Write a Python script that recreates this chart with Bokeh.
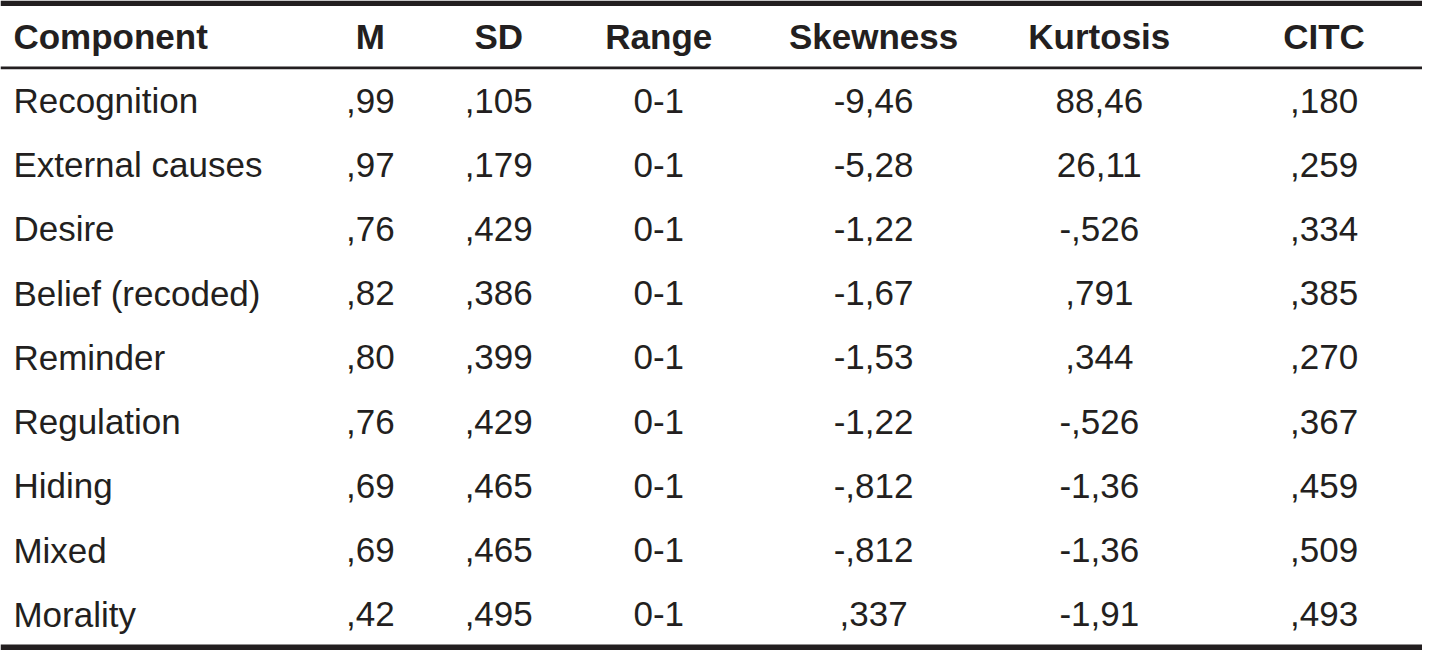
from bokeh.plotting import figure
from bokeh.models import Range1d, ColumnDataSource
from bokeh.core.properties import value
from bokeh.embed import file_html
from bokeh.resources import INLINE

# ---- data ----
headers = ["Component", "M", "SD", "Range", "Skewness", "Kurtosis", "CITC"]
components = ["Recognition", "External causes", "Desire", "Belief (recoded)",
              "Reminder", "Regulation", "Hiding", "Mixed", "Morality"]
mean_vals = [",99", ",97", ",76", ",82", ",80", ",76", ",69", ",69", ",42"]
sd_vals = [",105", ",179", ",429", ",386", ",399", ",429", ",465", ",465", ",495"]
range_vals = ["0-1", "0-1", "0-1", "0-1", "0-1", "0-1", "0-1", "0-1", "0-1"]
skew_vals = ["-9,46", "-5,28", "-1,22", "-1,67", "-1,53", "-1,22", "-,812", "-,812", ",337"]
kurt_vals = ["88,46", "26,11", "-,526", ",791", ",344", "-,526", "-1,36", "-1,36", "-1,91"]
citc_vals = [",180", ",259", ",334", ",385", ",270", ",367", ",459", ",509", ",493"]

# ---- layout (reference pixel space) ----
FONT = "Liberation Sans"
COLOR = "#231f20"
FS = "35px"
left_x = 13
col_centers = [372, 501, 662, 878, 1105, 1331]
fix = 11  # compensate baseline offset of svg text
header_base = 48 - fix
first_base = 112.7 - fix
row_step = 65.3
x0, x1 = 0, 1430
top_rule = (0, 5.5)
head_rule = (67, 70)
bot_rule = (655, 661)

p = figure(width=1422, height=650, output_backend="svg", toolbar_location=None,
           x_range=Range1d(0, 1430), y_range=Range1d(661, 0),
           min_border=0, outline_line_color=None, background_fill_color="white",
           border_fill_color="white")
p.axis.visible = False
p.grid.visible = False

# rules
p.quad(left=[x0, x0, x0], right=[x1, x1, x1],
       top=[top_rule[0], head_rule[0], bot_rule[0]],
       bottom=[top_rule[1], head_rule[1], bot_rule[1]],
       fill_color=COLOR, line_color=None)

# header
p.text(x=[left_x], y=[header_base], text=[headers[0]], text_font=value(FONT),
       text_font_size=FS, text_font_style="bold", text_color=COLOR,
       text_align="left", text_baseline="alphabetic")
p.text(x=col_centers, y=[header_base] * len(col_centers), text=headers[1:],
       text_font=value(FONT), text_font_size=FS, text_font_style="bold",
       text_color=COLOR, text_align="center", text_baseline="alphabetic")

# body
ys = [first_base + i * row_step for i in range(len(components))]
p.text(x=[left_x] * len(components), y=ys, text=components, text_font=value(FONT),
       text_font_size=FS, text_color=COLOR, text_align="left",
       text_baseline="alphabetic")
for cx, col in zip(col_centers, [mean_vals, sd_vals, range_vals, skew_vals, kurt_vals, citc_vals]):
    src = ColumnDataSource(dict(x=[cx] * len(col), y=ys, t=col))
    p.text(x="x", y="y", text="t", source=src, text_font=value(FONT),
           text_font_size=FS, text_color=COLOR, text_align="center",
           text_baseline="alphabetic")

open("out.html", "w").write(file_html(p, INLINE))
